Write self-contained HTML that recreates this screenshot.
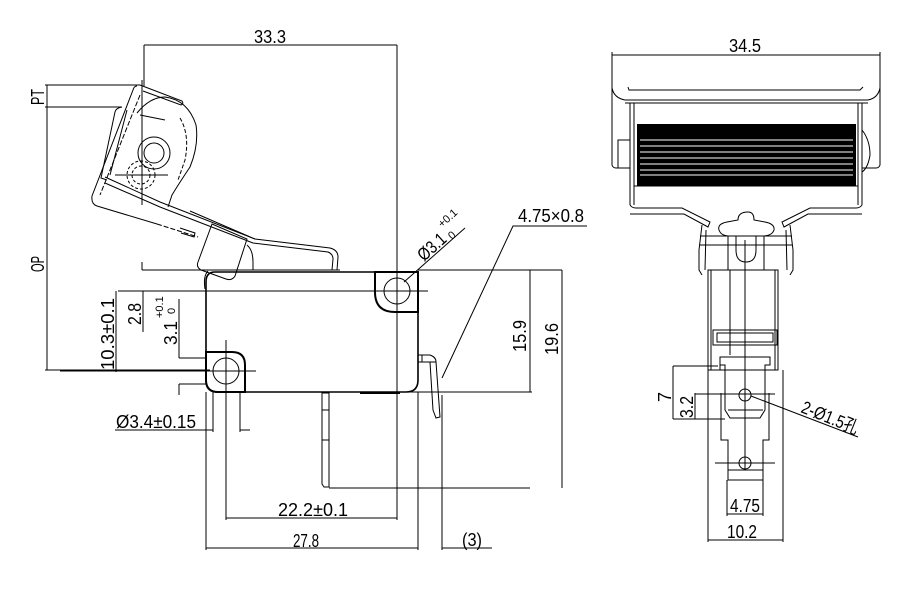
<!DOCTYPE html>
<html><head><meta charset="utf-8"><style>
html,body{margin:0;padding:0;background:#fff}
svg{display:block}
text{font-family:"Liberation Sans Narrow","Liberation Sans","Noto Sans CJK SC",sans-serif;fill:#000}
</style></head><body>
<svg width="900" height="600" viewBox="0 0 900 600" xmlns="http://www.w3.org/2000/svg">
<g stroke="#000" stroke-width="1" fill="none">
<!-- 33.3 dim -->
<line x1="144" y1="45" x2="397" y2="45"/>
<line x1="144" y1="45" x2="144" y2="86"/>
<line x1="397" y1="45" x2="397" y2="520"/>
<!-- PT / OP -->
<line x1="45" y1="85" x2="140" y2="85"/>
<line x1="45" y1="107" x2="122" y2="107"/>
<line x1="47" y1="85" x2="47" y2="107"/>
<line x1="47" y1="107" x2="47" y2="370"/>
<line x1="45" y1="370" x2="210" y2="370"/>
<line x1="142" y1="270" x2="340" y2="270"/>
<line x1="142" y1="262" x2="142" y2="270"/>
<!-- lever -->
<line x1="142" y1="80" x2="142" y2="205"/>
<line x1="115" y1="175" x2="168" y2="175"/>
<path d="M140 85 L182 101 Q184 104 181 105 L143 91"/>
<path d="M137 86 Q134 86 133 90 L92 196 Q91 204 97 206 L157 224"/>
<path d="M157 224 L198 237" stroke-dasharray="5,2"/>
<path d="M140 95 L100 195" stroke-dasharray="5,2"/>
<path d="M122 107 Q116 108 115 112 L101 178 L107 180"/>
<path d="M127 110 L110 175"/>
<path d="M140 115 L165 120"/>
<path d="M137 113 Q150 97 165 97 Q188 100 196 125 Q199 145 190 167 Q178 185 172 195 L168 207"/>
<path d="M180 118 Q190 135 185 160 L178 180" stroke-dasharray="4,2"/>
<path d="M105 177 L160 202 L255 239 L330 248 Q338 250 338 257 L337 270"/>
<path d="M105 183 L160 207 L253 243 L328 252 Q333 254 333 259 L332 270"/>
<path d="M190 211 L255 239"/>
<path d="M180 228 L195 233 L194 237 L181 233"/>
<path d="M212 224 L247 239 L235 276 Q232 281 226 279 L201 270 Q196 267 198 262 Z"/>
<path d="M247 245 Q253 250 253 262 L253 270"/>
<path d="M208 271 Q203 276 205 289"/>
<circle cx="154" cy="153" r="16"/>
<circle cx="154" cy="153" r="10"/>
<circle cx="141" cy="175" r="14" stroke-dasharray="3,2"/>
<circle cx="141" cy="175" r="9" stroke-dasharray="3,2"/>
<!-- body -->
<path d="M215 272 L418 272 L418 380 Q418 392 406 392 L218 392 Q206 392 206 380 L206 282 Q206 272 215 272 Z" stroke-width="1.6"/>
<path d="M375 272 L418 272 L418 312 L395 312 Q375 312 375 292 Z" stroke-width="2"/>
<circle cx="397" cy="291" r="13"/>
<line x1="118" y1="291" x2="428" y2="291"/>
<path d="M206 352 L232 352 Q245 352 245 365 L245 392 L218 392 Q206 392 206 380 Z" stroke-width="2"/>
<circle cx="226" cy="371" r="13"/>
<line x1="60" y1="371" x2="256" y2="371"/>
<line x1="226" y1="340" x2="226" y2="520"/>
<line x1="360" y1="393" x2="400" y2="393" stroke-width="2"/>
<!-- middle terminal -->
<path d="M322 393 L329 393 L329 487 L324 487 L322 484 Z"/>
<line x1="322" y1="410" x2="329" y2="410"/>
<line x1="322" y1="440" x2="329" y2="440"/>
<line x1="329" y1="488" x2="530" y2="488"/>
<!-- right terminal -->
<path d="M418 355 L430 355 Q436 357 436 362 L418 362 Z"/>
<line x1="422" y1="355" x2="422" y2="362"/>
<path d="M430 362 L436 362 L440 417 L436 418 L433 410 Z"/>
<line x1="442" y1="395" x2="442" y2="550"/>
<line x1="418" y1="392" x2="418" y2="550"/>
<line x1="206" y1="392" x2="206" y2="550"/>
<!-- dims right -->
<line x1="418" y1="270" x2="562" y2="270"/>
<line x1="400" y1="392" x2="532" y2="392"/>
<line x1="530" y1="270" x2="530" y2="392"/>
<line x1="562" y1="270" x2="562" y2="488"/>
<polyline points="442,378 513,226 587,226"/>
<line x1="404" y1="282" x2="465" y2="228"/>
<!-- left dims -->
<line x1="116" y1="291" x2="116" y2="372"/>
<line x1="143" y1="291" x2="143" y2="332"/>
<line x1="179" y1="299" x2="179" y2="358"/>
<line x1="179" y1="358" x2="206" y2="358"/>
<line x1="179" y1="384" x2="206" y2="384"/>
<line x1="179" y1="384" x2="179" y2="395"/>
<line x1="115" y1="430" x2="213" y2="430"/>
<line x1="213" y1="392" x2="213" y2="432"/>
<line x1="240" y1="392" x2="240" y2="432"/>
<line x1="240" y1="430" x2="250" y2="430"/>
<!-- bottom dims -->
<line x1="226" y1="518" x2="397" y2="518"/>
<line x1="206" y1="548" x2="418" y2="548"/>
<line x1="442" y1="548" x2="492" y2="548"/>

<!-- RIGHT VIEW -->
<line x1="612" y1="55" x2="880" y2="55"/>
<line x1="612" y1="52" x2="612" y2="98"/>
<line x1="880" y1="52" x2="880" y2="98"/>
<path d="M612 58 L612 88 Q614 98 625 100 L868 100 Q878 98 880 88 L880 58"/>
<path d="M628 87 L629 90 L860 90 L863 87"/>
<line x1="625" y1="103" x2="868" y2="103"/>
<path d="M612 98 L612 165 Q613 168 616 168 L630 168"/>
<path d="M880 98 L880 165 Q879 168 876 168 L862 168"/>
<rect x="618" y="140" width="12" height="28"/>
<path d="M862 130 Q870 140 870 155 Q868 168 862 172"/>
<line x1="630" y1="103" x2="630" y2="205"/>
<line x1="634" y1="103" x2="634" y2="205"/>
<line x1="858" y1="103" x2="858" y2="205"/>
<line x1="862" y1="103" x2="862" y2="205"/>
<line x1="634" y1="186" x2="858" y2="186"/>
<path d="M630 205 Q632 208 636 208 L682 208 L710 222 L708 227 L684 214 L630 214"/>
<path d="M862 205 Q860 208 856 208 L810 208 L782 222 L784 227 L808 214 L862 214"/>
<path d="M748 212 Q738 212 738 220 L727 222 Q717 224 719 230 Q721 236 730 236 L736 236 L736 250 Q736 262 746 262 Q756 262 756 250 L756 236 L762 236 Q772 236 774 230 Q775 224 765 222 L754 220 Q754 212 748 212 Z"/>
<path d="M702 225 L699 250 L699 270 L702 275"/>
<path d="M790 225 L793 250 L793 270 L790 275"/>
<path d="M706 230 L705 270"/>
<path d="M786 230 L787 270"/>
<line x1="700" y1="236" x2="792" y2="236"/>
<line x1="700" y1="245" x2="792" y2="245"/>
<line x1="728" y1="236" x2="728" y2="270"/>
<line x1="764" y1="236" x2="764" y2="270"/>
<rect x="708" y="270" width="70" height="100"/>
<line x1="711" y1="270" x2="711" y2="370"/>
<line x1="775" y1="270" x2="775" y2="370"/>
<rect x="713" y="330" width="64" height="15"/>
<rect x="717" y="333" width="56" height="9"/>
<line x1="745" y1="240" x2="745" y2="470"/>
<line x1="730" y1="270" x2="730" y2="355"/>
<path d="M720 370 L720 357 L770 357 L770 365 L765 365 L765 410 L760 418 L730 418 L725 410 L725 365 L720 365"/>
<path d="M721 393 L721 440 L728 440 L728 480 L763 480 L763 440 L769 440 L769 393"/>
<line x1="728" y1="470" x2="763" y2="470"/>
<line x1="728" y1="410" x2="763" y2="410"/>
<circle cx="745" cy="395" r="6"/>
<circle cx="745" cy="463" r="6"/>
<line x1="715" y1="463" x2="775" y2="463"/>
<line x1="695" y1="394" x2="775" y2="394"/>
<line x1="673" y1="366" x2="718" y2="366"/>
<line x1="673" y1="366" x2="673" y2="419"/>
<line x1="673" y1="419" x2="725" y2="419"/>
<line x1="695" y1="393" x2="695" y2="419"/>
<line x1="751" y1="396" x2="858" y2="437"/>
<line x1="708" y1="370" x2="708" y2="542"/>
<line x1="783" y1="370" x2="783" y2="542"/>
<line x1="727" y1="480" x2="727" y2="516"/>
<line x1="763" y1="480" x2="763" y2="516"/>
<line x1="727" y1="514" x2="763" y2="514"/>
<line x1="708" y1="540" x2="783" y2="540"/>
</g>
<rect x="637" y="124" width="219" height="62" fill="#000"/>
<g stroke="#fff" stroke-width="1">
<line x1="640" y1="140" x2="853" y2="140"/>
<line x1="640" y1="146" x2="853" y2="146"/>
<line x1="640" y1="152" x2="853" y2="152"/>
<line x1="640" y1="158" x2="853" y2="158"/>
<line x1="640" y1="164" x2="853" y2="164"/>
<line x1="640" y1="170" x2="853" y2="170"/>
<line x1="640" y1="175" x2="853" y2="175"/>
</g>
<g font-size="18">
<text x="254" y="43" textLength="32" lengthAdjust="spacingAndGlyphs">33.3</text>
<text x="729" y="52" textLength="32" lengthAdjust="spacingAndGlyphs">34.5</text>
<text x="518" y="222" textLength="66" lengthAdjust="spacingAndGlyphs">4.75×0.8</text>
<text x="278" y="516" textLength="70" lengthAdjust="spacingAndGlyphs">22.2±0.1</text>
<text x="293" y="547" textLength="26" lengthAdjust="spacingAndGlyphs">27.8</text>
<text x="462" y="546" textLength="20" lengthAdjust="spacingAndGlyphs">(3)</text>
<text x="116" y="428" textLength="80" lengthAdjust="spacingAndGlyphs">Ø3.4±0.15</text>
<text x="730" y="512" textLength="30" lengthAdjust="spacingAndGlyphs">4.75</text>
<text x="727" y="538" textLength="30" lengthAdjust="spacingAndGlyphs">10.2</text>
<text transform="translate(526,352) rotate(-90)" textLength="32" lengthAdjust="spacingAndGlyphs">15.9</text>
<text transform="translate(558,355) rotate(-90)" textLength="32" lengthAdjust="spacingAndGlyphs">19.6</text>
<text transform="translate(114,370) rotate(-90)" textLength="72" lengthAdjust="spacingAndGlyphs">10.3±0.1</text>
<text transform="translate(141,325) rotate(-90)" textLength="22" lengthAdjust="spacingAndGlyphs">2.8</text>
<text transform="translate(177,345) rotate(-90)" textLength="24" lengthAdjust="spacingAndGlyphs">3.1</text>
<text transform="translate(44,105) rotate(-90)" textLength="16" lengthAdjust="spacingAndGlyphs">PT</text>
<text transform="translate(44,272) rotate(-90)" textLength="16" lengthAdjust="spacingAndGlyphs">OP</text>
<text transform="translate(671,402) rotate(-90)">7</text>
<text transform="translate(693,418) rotate(-90)" textLength="22" lengthAdjust="spacingAndGlyphs">3.2</text>
<text transform="translate(800,412) rotate(22)" textLength="60" lengthAdjust="spacingAndGlyphs">2-Ø1.5孔</text>
<text transform="translate(424,262) rotate(-42)" textLength="32" lengthAdjust="spacingAndGlyphs">Ø3.1</text>
</g>
<g font-size="11">
<text transform="translate(163,318) rotate(-90)">+0.1</text>
<text transform="translate(175,314) rotate(-90)">0</text>
<text transform="translate(442,228) rotate(-42)">+0.1</text>
<text transform="translate(452,240) rotate(-42)">0</text>
</g>
</svg>
</body></html>
